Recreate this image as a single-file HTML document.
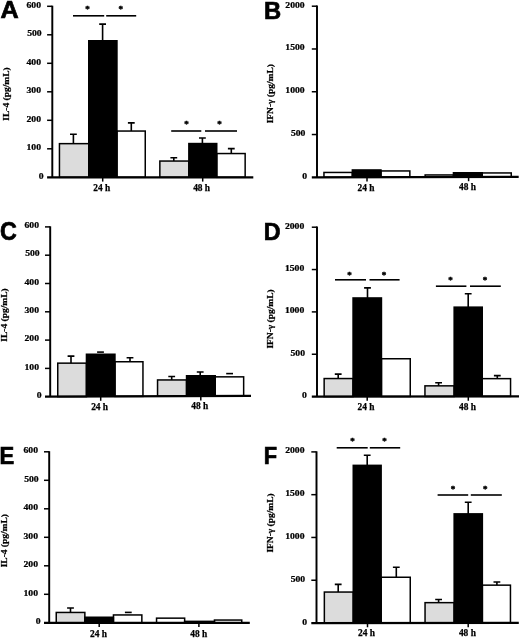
<!DOCTYPE html>
<html><head><meta charset="utf-8"><title>Figure</title>
<style>
html,body{margin:0;padding:0;background:#fff}
svg{display:block}
.tk{font:bold 8.8px "Liberation Serif",serif;fill:#000;stroke:#000;stroke-width:0.25px}
.yl{font:bold 9px "Liberation Serif",serif;fill:#000;stroke:#000;stroke-width:0.25px}
.xl{font:bold 9.4px "Liberation Serif",serif;fill:#000;stroke:#000;stroke-width:0.25px}
.st{font:bold 9px "Liberation Serif",serif;fill:#000;stroke:#000;stroke-width:0.45px}
.lt{font:bold 24px "Liberation Sans",sans-serif;fill:#000;stroke:#000;stroke-width:0.7px}
</style></head><body>
<svg width="520" height="638" viewBox="0 0 520 638">
<rect width="520" height="638" fill="#fff"/>
<path d="M70.00 134.30H76.80M73.40 134.30V143.90" stroke="#000" stroke-width="1.6" fill="none"/>
<rect x="59.45" y="143.65" width="29.30" height="33.65" fill="#dcdcdc" stroke="#000" stroke-width="1.5"/>
<path d="M127.90 122.90H134.70M131.30 122.90V131.30" stroke="#000" stroke-width="1.6" fill="none"/>
<rect x="116.95" y="131.05" width="28.30" height="46.25" fill="#fff" stroke="#000" stroke-width="1.5"/>
<path d="M170.40 157.80H177.20M173.80 157.80V161.30" stroke="#000" stroke-width="1.6" fill="none"/>
<rect x="159.85" y="161.05" width="29.00" height="16.25" fill="#dcdcdc" stroke="#000" stroke-width="1.5"/>
<path d="M227.90 148.60H234.70M231.30 148.60V153.80" stroke="#000" stroke-width="1.6" fill="none"/>
<rect x="216.75" y="153.55" width="28.40" height="23.75" fill="#fff" stroke="#000" stroke-width="1.5"/>
<path d="M99.20 24.10H106.00M102.60 24.10V41.00" stroke="#000" stroke-width="1.6" fill="none"/>
<rect x="88.00" y="40.00" width="29.70" height="137.30" fill="#000"/>
<path d="M199.00 138.00H205.80M202.40 138.00V143.80" stroke="#000" stroke-width="1.6" fill="none"/>
<rect x="188.10" y="142.80" width="29.40" height="34.50" fill="#000"/>
<path d="M52.30 5.70V177.30" stroke="#000" stroke-width="1.95" fill="none"/>
<path d="M47.10 177.30L253.30 177.30" stroke="#000" stroke-width="2.25" fill="none"/>
<path d="M47.10 6.30H52.30" stroke="#000" stroke-width="1.5" fill="none"/>
<text transform="translate(41.00 7.80) scale(1.1 1)" class="tk" text-anchor="end">600</text>
<path d="M47.10 34.80H52.30" stroke="#000" stroke-width="1.5" fill="none"/>
<text transform="translate(41.70 36.30) scale(1.1 1)" class="tk" text-anchor="end">500</text>
<path d="M47.10 63.30H52.30" stroke="#000" stroke-width="1.5" fill="none"/>
<text transform="translate(41.00 64.80) scale(1.1 1)" class="tk" text-anchor="end">400</text>
<path d="M47.10 91.80H52.30" stroke="#000" stroke-width="1.5" fill="none"/>
<text transform="translate(41.00 93.30) scale(1.1 1)" class="tk" text-anchor="end">300</text>
<path d="M47.10 120.30H52.30" stroke="#000" stroke-width="1.5" fill="none"/>
<text transform="translate(41.00 121.80) scale(1.1 1)" class="tk" text-anchor="end">200</text>
<path d="M47.10 148.80H52.30" stroke="#000" stroke-width="1.5" fill="none"/>
<text transform="translate(41.00 150.30) scale(1.1 1)" class="tk" text-anchor="end">100</text>
<text transform="translate(43.50 178.80) scale(1.1 1)" class="tk" text-anchor="end">0</text>
<path d="M102.70 177.30V181.60" stroke="#000" stroke-width="1.5" fill="none"/>
<text transform="translate(101.70 190.70) scale(1.0 1)" class="xl" text-anchor="middle">24 h</text>
<path d="M202.70 177.30V181.60" stroke="#000" stroke-width="1.5" fill="none"/>
<text transform="translate(201.60 190.70) scale(1.0 1)" class="xl" text-anchor="middle">48 h</text>
<path d="M73.00 15.80H104.20" stroke="#000" stroke-width="1.6" fill="none"/>
<path d="M106.20 15.80H136.20" stroke="#000" stroke-width="1.6" fill="none"/>
<text x="87.50" y="12.30" class="st" text-anchor="middle">*</text>
<text x="120.70" y="12.30" class="st" text-anchor="middle">*</text>
<path d="M171.20 131.00H201.30" stroke="#000" stroke-width="1.6" fill="none"/>
<path d="M205.00 131.00H237.00" stroke="#000" stroke-width="1.6" fill="none"/>
<text x="186.50" y="127.30" class="st" text-anchor="middle">*</text>
<text x="219.60" y="127.30" class="st" text-anchor="middle">*</text>
<text transform="translate(0.60 18.20) scale(1.05 1)" class="lt">A</text>
<text transform="translate(9.20 94.00) rotate(-90) scale(1.05 1)" class="yl" text-anchor="middle">IL-4 (pg/mL)</text>
<rect x="323.95" y="172.45" width="28.40" height="4.80" fill="#fff" stroke="#000" stroke-width="1.5"/>
<rect x="380.95" y="170.95" width="28.90" height="6.16" fill="#fff" stroke="#000" stroke-width="1.5"/>
<rect x="425.15" y="174.95" width="28.30" height="2.05" fill="#fff" stroke="#000" stroke-width="1.5"/>
<rect x="482.25" y="172.95" width="29.00" height="3.90" fill="#fff" stroke="#000" stroke-width="1.5"/>
<rect x="351.60" y="169.20" width="30.10" height="7.98" fill="#000"/>
<rect x="452.70" y="172.00" width="30.30" height="4.93" fill="#000"/>
<path d="M317.00 5.60V177.30" stroke="#000" stroke-width="1.95" fill="none"/>
<path d="M311.80 177.30L518.70 176.80" stroke="#000" stroke-width="2.25" fill="none"/>
<path d="M311.80 6.20H317.00" stroke="#000" stroke-width="1.5" fill="none"/>
<text transform="translate(304.70 7.70) scale(1.1 1)" class="tk" text-anchor="end">2000</text>
<path d="M311.80 48.98H317.00" stroke="#000" stroke-width="1.5" fill="none"/>
<text transform="translate(304.70 50.48) scale(1.1 1)" class="tk" text-anchor="end">1500</text>
<path d="M311.80 91.75H317.00" stroke="#000" stroke-width="1.5" fill="none"/>
<text transform="translate(304.70 93.25) scale(1.1 1)" class="tk" text-anchor="end">1000</text>
<path d="M311.80 134.53H317.00" stroke="#000" stroke-width="1.5" fill="none"/>
<text transform="translate(305.40 136.03) scale(1.1 1)" class="tk" text-anchor="end">500</text>
<text transform="translate(307.20 178.80) scale(1.1 1)" class="tk" text-anchor="end">0</text>
<path d="M367.00 177.18V181.48" stroke="#000" stroke-width="1.5" fill="none"/>
<text transform="translate(366.00 190.68) scale(1.0 1)" class="xl" text-anchor="middle">24 h</text>
<path d="M468.60 176.92V181.22" stroke="#000" stroke-width="1.5" fill="none"/>
<text transform="translate(467.50 190.42) scale(1.0 1)" class="xl" text-anchor="middle">48 h</text>
<text transform="translate(264.00 19.00) scale(0.99 1)" class="lt">B</text>
<text transform="translate(272.70 93.70) rotate(-90) scale(1.05 1)" class="yl" text-anchor="middle">IFN-γ (pg/mL)</text>
<path d="M67.60 356.10H74.40M71.00 356.10V363.40" stroke="#000" stroke-width="1.6" fill="none"/>
<rect x="57.75" y="363.15" width="28.70" height="33.46" fill="#dcdcdc" stroke="#000" stroke-width="1.5"/>
<path d="M126.60 357.80H133.40M130.00 357.80V362.00" stroke="#000" stroke-width="1.6" fill="none"/>
<rect x="114.95" y="361.75" width="28.00" height="34.64" fill="#fff" stroke="#000" stroke-width="1.5"/>
<path d="M168.30 376.50H175.10M171.70 376.50V380.20" stroke="#000" stroke-width="1.6" fill="none"/>
<rect x="157.55" y="379.95" width="29.00" height="16.26" fill="#dcdcdc" stroke="#000" stroke-width="1.5"/>
<path d="M226.20 373.60H233.00" stroke="#000" stroke-width="1.6" fill="none"/>
<rect x="215.25" y="376.85" width="28.40" height="19.14" fill="#fff" stroke="#000" stroke-width="1.5"/>
<path d="M97.10 352.10H103.90" stroke="#000" stroke-width="1.6" fill="none"/>
<rect x="85.70" y="353.50" width="30.00" height="43.00" fill="#000"/>
<path d="M196.80 372.00H203.60M200.20 372.00V376.00" stroke="#000" stroke-width="1.6" fill="none"/>
<rect x="185.80" y="375.00" width="30.20" height="21.10" fill="#000"/>
<path d="M50.20 226.30V396.70" stroke="#000" stroke-width="1.95" fill="none"/>
<path d="M45.00 396.70L251.00 395.90" stroke="#000" stroke-width="2.25" fill="none"/>
<path d="M45.00 226.90H50.20" stroke="#000" stroke-width="1.5" fill="none"/>
<text transform="translate(39.00 228.10) scale(1.1 1)" class="tk" text-anchor="end">600</text>
<path d="M45.00 255.20H50.20" stroke="#000" stroke-width="1.5" fill="none"/>
<text transform="translate(39.70 256.40) scale(1.1 1)" class="tk" text-anchor="end">500</text>
<path d="M45.00 283.50H50.20" stroke="#000" stroke-width="1.5" fill="none"/>
<text transform="translate(39.00 284.70) scale(1.1 1)" class="tk" text-anchor="end">400</text>
<path d="M45.00 311.80H50.20" stroke="#000" stroke-width="1.5" fill="none"/>
<text transform="translate(39.00 313.00) scale(1.1 1)" class="tk" text-anchor="end">300</text>
<path d="M45.00 340.10H50.20" stroke="#000" stroke-width="1.5" fill="none"/>
<text transform="translate(39.00 341.30) scale(1.1 1)" class="tk" text-anchor="end">200</text>
<path d="M45.00 368.40H50.20" stroke="#000" stroke-width="1.5" fill="none"/>
<text transform="translate(39.00 369.60) scale(1.1 1)" class="tk" text-anchor="end">100</text>
<text transform="translate(41.50 397.90) scale(1.1 1)" class="tk" text-anchor="end">0</text>
<path d="M100.70 396.50V400.80" stroke="#000" stroke-width="1.5" fill="none"/>
<text transform="translate(99.60 409.80) scale(1.0 1)" class="xl" text-anchor="middle">24 h</text>
<path d="M200.80 396.10V400.40" stroke="#000" stroke-width="1.5" fill="none"/>
<text transform="translate(199.80 409.40) scale(1.0 1)" class="xl" text-anchor="middle">48 h</text>
<text transform="translate(0.00 239.90) scale(0.97 1.05)" class="lt">C</text>
<text transform="translate(6.60 315.00) rotate(-90) scale(1.05 1)" class="yl" text-anchor="middle">IL-4 (pg/mL)</text>
<path d="M334.80 374.10H341.60M338.20 374.10V378.80" stroke="#000" stroke-width="1.6" fill="none"/>
<rect x="324.15" y="378.55" width="28.90" height="18.03" fill="#dcdcdc" stroke="#000" stroke-width="1.5"/>
<rect x="381.45" y="358.75" width="28.80" height="37.77" fill="#fff" stroke="#000" stroke-width="1.5"/>
<path d="M435.20 382.80H442.00M438.60 382.80V386.10" stroke="#000" stroke-width="1.6" fill="none"/>
<rect x="424.95" y="385.85" width="29.20" height="10.63" fill="#dcdcdc" stroke="#000" stroke-width="1.5"/>
<path d="M493.90 375.60H500.70M497.30 375.60V378.90" stroke="#000" stroke-width="1.6" fill="none"/>
<rect x="482.25" y="378.65" width="28.30" height="17.77" fill="#fff" stroke="#000" stroke-width="1.5"/>
<path d="M364.10 287.90H370.90M367.50 287.90V298.20" stroke="#000" stroke-width="1.6" fill="none"/>
<rect x="352.30" y="297.20" width="29.90" height="99.35" fill="#000"/>
<path d="M464.80 293.80H471.60M468.20 293.80V307.40" stroke="#000" stroke-width="1.6" fill="none"/>
<rect x="453.40" y="306.40" width="29.60" height="90.05" fill="#000"/>
<path d="M317.00 226.60V396.60" stroke="#000" stroke-width="1.95" fill="none"/>
<path d="M311.80 396.60L519.00 396.40" stroke="#000" stroke-width="2.25" fill="none"/>
<path d="M311.80 227.20H317.00" stroke="#000" stroke-width="1.5" fill="none"/>
<text transform="translate(304.30 228.70) scale(1.1 1)" class="tk" text-anchor="end">2000</text>
<path d="M311.80 269.55H317.00" stroke="#000" stroke-width="1.5" fill="none"/>
<text transform="translate(304.30 271.05) scale(1.1 1)" class="tk" text-anchor="end">1500</text>
<path d="M311.80 311.90H317.00" stroke="#000" stroke-width="1.5" fill="none"/>
<text transform="translate(304.30 313.40) scale(1.1 1)" class="tk" text-anchor="end">1000</text>
<path d="M311.80 354.25H317.00" stroke="#000" stroke-width="1.5" fill="none"/>
<text transform="translate(305.00 355.75) scale(1.1 1)" class="tk" text-anchor="end">500</text>
<text transform="translate(306.80 398.10) scale(1.1 1)" class="tk" text-anchor="end">0</text>
<path d="M367.20 396.55V400.85" stroke="#000" stroke-width="1.5" fill="none"/>
<text transform="translate(366.00 409.75) scale(1.0 1)" class="xl" text-anchor="middle">24 h</text>
<path d="M468.30 396.45V400.75" stroke="#000" stroke-width="1.5" fill="none"/>
<text transform="translate(467.50 409.65) scale(1.0 1)" class="xl" text-anchor="middle">48 h</text>
<path d="M335.00 279.80H366.00" stroke="#000" stroke-width="1.6" fill="none"/>
<path d="M369.50 279.80H399.60" stroke="#000" stroke-width="1.6" fill="none"/>
<text x="349.50" y="277.50" class="st" text-anchor="middle">*</text>
<text x="384.00" y="277.50" class="st" text-anchor="middle">*</text>
<path d="M435.90 286.20H466.40" stroke="#000" stroke-width="1.6" fill="none"/>
<path d="M470.00 286.20H500.80" stroke="#000" stroke-width="1.6" fill="none"/>
<text x="450.40" y="283.10" class="st" text-anchor="middle">*</text>
<text x="485.00" y="283.10" class="st" text-anchor="middle">*</text>
<text transform="translate(263.70 239.70) scale(0.97 1)" class="lt">D</text>
<text transform="translate(272.60 319.00) rotate(-90) scale(1.05 1)" class="yl" text-anchor="middle">IFN-γ (pg/mL)</text>
<path d="M67.10 608.00H73.90M70.50 608.00V612.70" stroke="#000" stroke-width="1.6" fill="none"/>
<rect x="56.25" y="612.45" width="28.60" height="10.35" fill="#dcdcdc" stroke="#000" stroke-width="1.5"/>
<path d="M124.90 612.40H131.70" stroke="#000" stroke-width="1.6" fill="none"/>
<rect x="113.45" y="614.95" width="28.40" height="7.85" fill="#fff" stroke="#000" stroke-width="1.5"/>
<rect x="156.55" y="618.15" width="28.10" height="4.65" fill="#fff" stroke="#000" stroke-width="1.5"/>
<rect x="214.45" y="620.05" width="27.30" height="2.75" fill="#fff" stroke="#000" stroke-width="1.5"/>
<rect x="84.10" y="616.50" width="30.10" height="6.30" fill="#000"/>
<rect x="183.90" y="620.60" width="31.30" height="2.20" fill="#000"/>
<path d="M49.20 451.20V622.80" stroke="#000" stroke-width="1.95" fill="none"/>
<path d="M44.00 622.80L249.80 622.80" stroke="#000" stroke-width="2.25" fill="none"/>
<path d="M44.00 451.80H49.20" stroke="#000" stroke-width="1.5" fill="none"/>
<text transform="translate(38.00 453.00) scale(1.1 1)" class="tk" text-anchor="end">600</text>
<path d="M44.00 480.30H49.20" stroke="#000" stroke-width="1.5" fill="none"/>
<text transform="translate(38.70 481.50) scale(1.1 1)" class="tk" text-anchor="end">500</text>
<path d="M44.00 508.80H49.20" stroke="#000" stroke-width="1.5" fill="none"/>
<text transform="translate(38.00 510.00) scale(1.1 1)" class="tk" text-anchor="end">400</text>
<path d="M44.00 537.30H49.20" stroke="#000" stroke-width="1.5" fill="none"/>
<text transform="translate(38.00 538.50) scale(1.1 1)" class="tk" text-anchor="end">300</text>
<path d="M44.00 565.80H49.20" stroke="#000" stroke-width="1.5" fill="none"/>
<text transform="translate(38.00 567.00) scale(1.1 1)" class="tk" text-anchor="end">200</text>
<path d="M44.00 594.30H49.20" stroke="#000" stroke-width="1.5" fill="none"/>
<text transform="translate(38.00 595.50) scale(1.1 1)" class="tk" text-anchor="end">100</text>
<text transform="translate(40.50 624.00) scale(1.1 1)" class="tk" text-anchor="end">0</text>
<path d="M99.20 622.80V627.10" stroke="#000" stroke-width="1.5" fill="none"/>
<text transform="translate(98.50 637.00) scale(1.0 1)" class="xl" text-anchor="middle">24 h</text>
<path d="M198.90 622.80V627.10" stroke="#000" stroke-width="1.5" fill="none"/>
<text transform="translate(198.70 637.00) scale(1.0 1)" class="xl" text-anchor="middle">48 h</text>
<text transform="translate(-0.40 463.50) scale(0.92 1)" class="lt">E</text>
<text transform="translate(6.80 540.70) rotate(-90) scale(1.05 1)" class="yl" text-anchor="middle">IL-4 (pg/mL)</text>
<path d="M334.80 584.40H341.60M338.20 584.40V592.30" stroke="#000" stroke-width="1.6" fill="none"/>
<rect x="324.35" y="592.05" width="28.90" height="30.94" fill="#dcdcdc" stroke="#000" stroke-width="1.5"/>
<path d="M392.90 567.20H399.70M396.30 567.20V577.50" stroke="#000" stroke-width="1.6" fill="none"/>
<rect x="381.15" y="577.25" width="29.10" height="45.71" fill="#fff" stroke="#000" stroke-width="1.5"/>
<path d="M435.20 599.50H442.00M438.60 599.50V602.90" stroke="#000" stroke-width="1.6" fill="none"/>
<rect x="425.05" y="602.65" width="29.10" height="20.29" fill="#dcdcdc" stroke="#000" stroke-width="1.5"/>
<path d="M493.50 582.00H500.30M496.90 582.00V585.40" stroke="#000" stroke-width="1.6" fill="none"/>
<rect x="482.35" y="585.15" width="28.10" height="37.76" fill="#fff" stroke="#000" stroke-width="1.5"/>
<path d="M363.80 455.20H370.60M367.20 455.20V465.60" stroke="#000" stroke-width="1.6" fill="none"/>
<rect x="352.50" y="464.60" width="29.40" height="158.37" fill="#000"/>
<path d="M464.80 502.20H471.60M468.20 502.20V514.10" stroke="#000" stroke-width="1.6" fill="none"/>
<rect x="453.40" y="513.10" width="29.70" height="109.82" fill="#000"/>
<path d="M316.50 451.30V623.00" stroke="#000" stroke-width="1.95" fill="none"/>
<path d="M311.30 623.00L518.80 622.90" stroke="#000" stroke-width="2.25" fill="none"/>
<path d="M311.30 451.90H316.50" stroke="#000" stroke-width="1.5" fill="none"/>
<text transform="translate(304.50 453.40) scale(1.1 1)" class="tk" text-anchor="end">2000</text>
<path d="M311.30 494.67H316.50" stroke="#000" stroke-width="1.5" fill="none"/>
<text transform="translate(304.50 496.17) scale(1.1 1)" class="tk" text-anchor="end">1500</text>
<path d="M311.30 537.45H316.50" stroke="#000" stroke-width="1.5" fill="none"/>
<text transform="translate(304.50 538.95) scale(1.1 1)" class="tk" text-anchor="end">1000</text>
<path d="M311.30 580.23H316.50" stroke="#000" stroke-width="1.5" fill="none"/>
<text transform="translate(305.20 581.73) scale(1.1 1)" class="tk" text-anchor="end">500</text>
<text transform="translate(307.00 624.50) scale(1.1 1)" class="tk" text-anchor="end">0</text>
<path d="M367.50 622.97V627.27" stroke="#000" stroke-width="1.5" fill="none"/>
<text transform="translate(366.50 636.37) scale(1.0 1)" class="xl" text-anchor="middle">24 h</text>
<path d="M468.20 622.93V627.23" stroke="#000" stroke-width="1.5" fill="none"/>
<text transform="translate(467.40 636.33) scale(1.0 1)" class="xl" text-anchor="middle">48 h</text>
<path d="M336.70 447.80H367.70" stroke="#000" stroke-width="1.6" fill="none"/>
<path d="M369.80 447.80H400.20" stroke="#000" stroke-width="1.6" fill="none"/>
<text x="352.50" y="443.90" class="st" text-anchor="middle">*</text>
<text x="384.50" y="443.90" class="st" text-anchor="middle">*</text>
<path d="M437.60 495.00H468.20" stroke="#000" stroke-width="1.6" fill="none"/>
<path d="M470.80 495.00H501.80" stroke="#000" stroke-width="1.6" fill="none"/>
<text x="453.00" y="491.50" class="st" text-anchor="middle">*</text>
<text x="485.30" y="491.50" class="st" text-anchor="middle">*</text>
<text transform="translate(263.70 463.70) scale(0.91 1)" class="lt">F</text>
<text transform="translate(272.60 523.00) rotate(-90) scale(1.05 1)" class="yl" text-anchor="middle">IFN-γ (pg/mL)</text>
</svg>
</body></html>
